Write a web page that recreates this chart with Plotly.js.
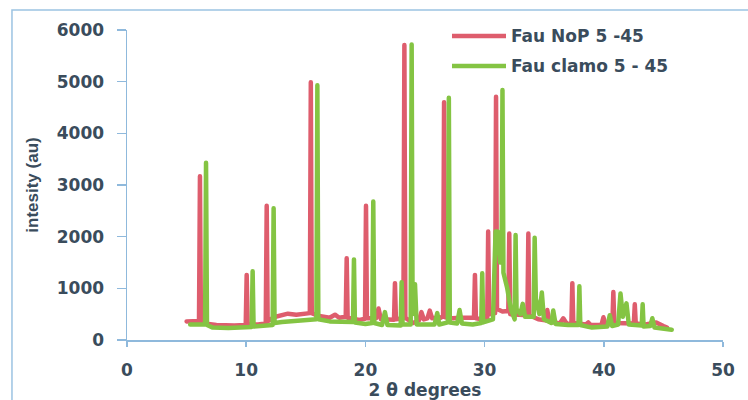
<!DOCTYPE html>
<html>
<head>
<meta charset="utf-8">
<script src="https://cdn.plot.ly/plotly-3.0.1.min.js"></script>
<style>
  html, body { margin: 0; padding: 0; background: #ffffff; }
  #chart { width: 748px; height: 400px; }
  /* rounded peak tops on the pattern lines */
  .scatterlayer .js-line { stroke-linejoin: round !important; stroke-linecap: round !important; }
</style>
</head>
<body>
<div id="chart"></div>
<script>
// Diffraction pattern [2θ, intensity], sample "Fau NoP 5 -45"
const nopPattern = [
  [5.0, 360], [5.5, 370], [6.04, 370], [6.12, 3170], [6.2, 380], [6.5, 320], [7.5, 290],
  [9.0, 280], [9.96, 290], [10.04, 1260], [10.12, 300], [11.0, 300], [11.64, 320],
  [11.72, 2600], [11.8, 360], [12.3, 440], [13.0, 470], [13.5, 510], [14.2, 490],
  [15.0, 500], [15.34, 520], [15.42, 4990], [15.5, 520], [16.0, 470], [17.0, 430],
  [17.45, 490], [17.8, 430], [18.35, 450], [18.43, 1580], [18.51, 430], [19.5, 390],
  [19.97, 410], [20.05, 2600], [20.13, 420], [20.9, 420], [21.1, 610], [21.3, 400],
  [22.4, 390], [22.48, 1100], [22.56, 400], [23.19, 420], [23.27, 5710], [23.35, 430],
  [24.0, 330], [24.5, 380], [24.7, 540], [24.9, 400], [25.2, 420], [25.4, 570],
  [25.6, 420], [26.3, 430], [26.52, 460], [26.6, 4600], [26.68, 440], [27.3, 420],
  [28.0, 430], [28.8, 440], [29.11, 430], [29.19, 1260], [29.27, 420], [29.8, 400],
  [30.22, 380], [30.3, 2100], [30.38, 500], [30.88, 520], [30.96, 4710], [31.04, 600],
  [31.5, 550], [31.99, 560], [32.07, 2060], [32.15, 500], [33.0, 500], [33.59, 480],
  [33.67, 2060], [33.75, 480], [34.5, 400], [35.1, 380], [35.26, 580], [35.42, 360],
  [36.3, 320], [36.6, 420], [36.9, 310], [37.28, 320], [37.36, 1100], [37.44, 330],
  [38.5, 300], [38.7, 340], [38.9, 290], [39.8, 290], [39.97, 440], [40.15, 300],
  [40.72, 320], [40.8, 930], [40.88, 330], [41.5, 330], [42.52, 320], [42.6, 690],
  [42.68, 320], [43.5, 300], [44.4, 340], [45.0, 270], [45.3, 240]
];

// Diffraction pattern [2θ, intensity], sample "Fau clamo 5 - 45"
const clamoPattern = [
  [5.3, 300], [6.0, 290], [6.55, 300], [6.63, 3430], [6.71, 290], [7.2, 240], [8.5, 230],
  [10.46, 250], [10.54, 1330], [10.62, 260], [11.5, 270], [12.22, 290], [12.3, 2550],
  [12.38, 330], [13.0, 350], [14.0, 360], [15.0, 380], [15.89, 400], [15.97, 4930],
  [16.05, 400], [17.0, 360], [18.0, 350], [18.96, 350], [19.04, 1560], [19.12, 340],
  [20.0, 310], [20.58, 330], [20.66, 2680], [20.74, 330], [21.4, 290], [21.64, 540],
  [21.85, 290], [22.96, 280], [23.04, 1120], [23.12, 300], [23.8, 300], [23.88, 5720],
  [23.96, 500], [24.16, 1080], [24.3, 300], [25.0, 290], [25.8, 300], [26.03, 520],
  [26.2, 300], [26.92, 340], [27.0, 4690], [27.08, 340], [27.7, 320], [27.9, 580],
  [28.1, 320], [29.0, 300], [29.72, 330], [29.8, 1290], [29.88, 340], [30.7, 400],
  [30.92, 2100], [31.08, 2100], [31.3, 1500], [31.42, 1500], [31.5, 4840], [31.58, 1300],
  [31.9, 1000], [32.2, 600], [32.52, 400], [32.6, 2030], [32.68, 600], [33.0, 500],
  [33.2, 700], [33.4, 450], [34.12, 450], [34.2, 1980], [34.3, 800], [34.6, 500],
  [34.8, 920], [34.98, 400], [35.6, 330], [35.76, 570], [35.95, 310], [37.0, 290],
  [37.87, 290], [37.95, 1040], [38.03, 290], [39.0, 240], [40.3, 260], [40.5, 480],
  [40.7, 270], [41.2, 300], [41.4, 900], [41.6, 450], [41.9, 710], [42.1, 300],
  [43.18, 280], [43.26, 690], [43.34, 260], [43.9, 270], [44.07, 420], [44.25, 240],
  [45.0, 220], [45.7, 200]
];

const seriesNames = ['Fau NoP 5 -45', 'Fau clamo 5 - 45'];
const seriesColors = ['#de5d6d', '#84c443'];
const xTicks = [0, 10, 20, 30, 40, 50];
const yTicks = [0, 1000, 2000, 3000, 4000, 5000, 6000];

const textColor = '#3a4c5c';
const axisColor = '#8fb9dc';
const tickFont = { family: 'DejaVu Sans', size: 17, weight: 700, color: textColor };

const patterns = [nopPattern, clamoPattern];
const traces = patterns.map((p, i) => ({
  x: p.map(d => d[0]),
  y: p.map(d => d[1]),
  name: seriesNames[i],
  type: 'scatter', mode: 'lines',
  line: { color: seriesColors[i], width: 4.5, shape: 'linear' }
}));

// Legend drawn as line samples plus text labels in the upper right
const legendY = [0.9806, 0.8839];
const legendShapes = seriesColors.map((c, i) => ({
  type: 'line', xref: 'paper', yref: 'paper',
  x0: 0.5453, x1: 0.6359, y0: legendY[i], y1: legendY[i],
  line: { color: c, width: 4.5 }
}));
const legendText = seriesNames.map((n, i) => ({
  xref: 'paper', yref: 'paper', x: 0.641, y: legendY[i],
  xanchor: 'left', yanchor: 'middle', showarrow: false, text: n,
  font: { family: 'DejaVu Sans', size: 17, weight: 700, color: textColor }
}));

// Outer chart frame
const frame = {
  type: 'rect', xref: 'paper', yref: 'paper',
  x0: -0.193, x1: 1.08, y0: -0.25, y1: 1.0645,
  line: { color: '#9cc3e2', width: 1.5 }, fillcolor: 'rgba(0,0,0,0)'
};

const layout = {
  width: 748, height: 400,
  margin: { l: 127, r: 25, t: 30, b: 60 },
  paper_bgcolor: '#ffffff', plot_bgcolor: '#ffffff',
  showlegend: false,
  xaxis: {
    range: [0, 50], tickvals: xTicks, ticktext: xTicks.map(String),
    showgrid: false, zeroline: false, showline: true,
    linecolor: axisColor, linewidth: 1.5,
    ticks: 'outside', ticklen: 5, tickcolor: axisColor, tickwidth: 1.5,
    ticklabelstandoff: 9,
    tickfont: tickFont,
    title: { text: '2 θ degrees', standoff: 10,
             font: { family: 'DejaVu Sans', size: 17, weight: 700, color: textColor } }
  },
  yaxis: {
    range: [0, 6000], tickvals: yTicks, ticktext: yTicks.map(String),
    showgrid: false, zeroline: false, showline: true,
    linecolor: axisColor, linewidth: 1.5,
    ticks: 'outside', ticklen: 9, tickcolor: axisColor, tickwidth: 1.5,
    ticklabelstandoff: 9,
    tickfont: tickFont,
    title: { text: 'intesity (au)', standoff: 14,
             font: { family: 'Liberation Sans Narrow, Liberation Sans', size: 17, weight: 700, color: textColor } }
  },
  shapes: [frame].concat(legendShapes),
  annotations: legendText
};

Plotly.newPlot('chart', traces, layout, { displayModeBar: false, staticPlot: true });
</script>
</body>
</html>
